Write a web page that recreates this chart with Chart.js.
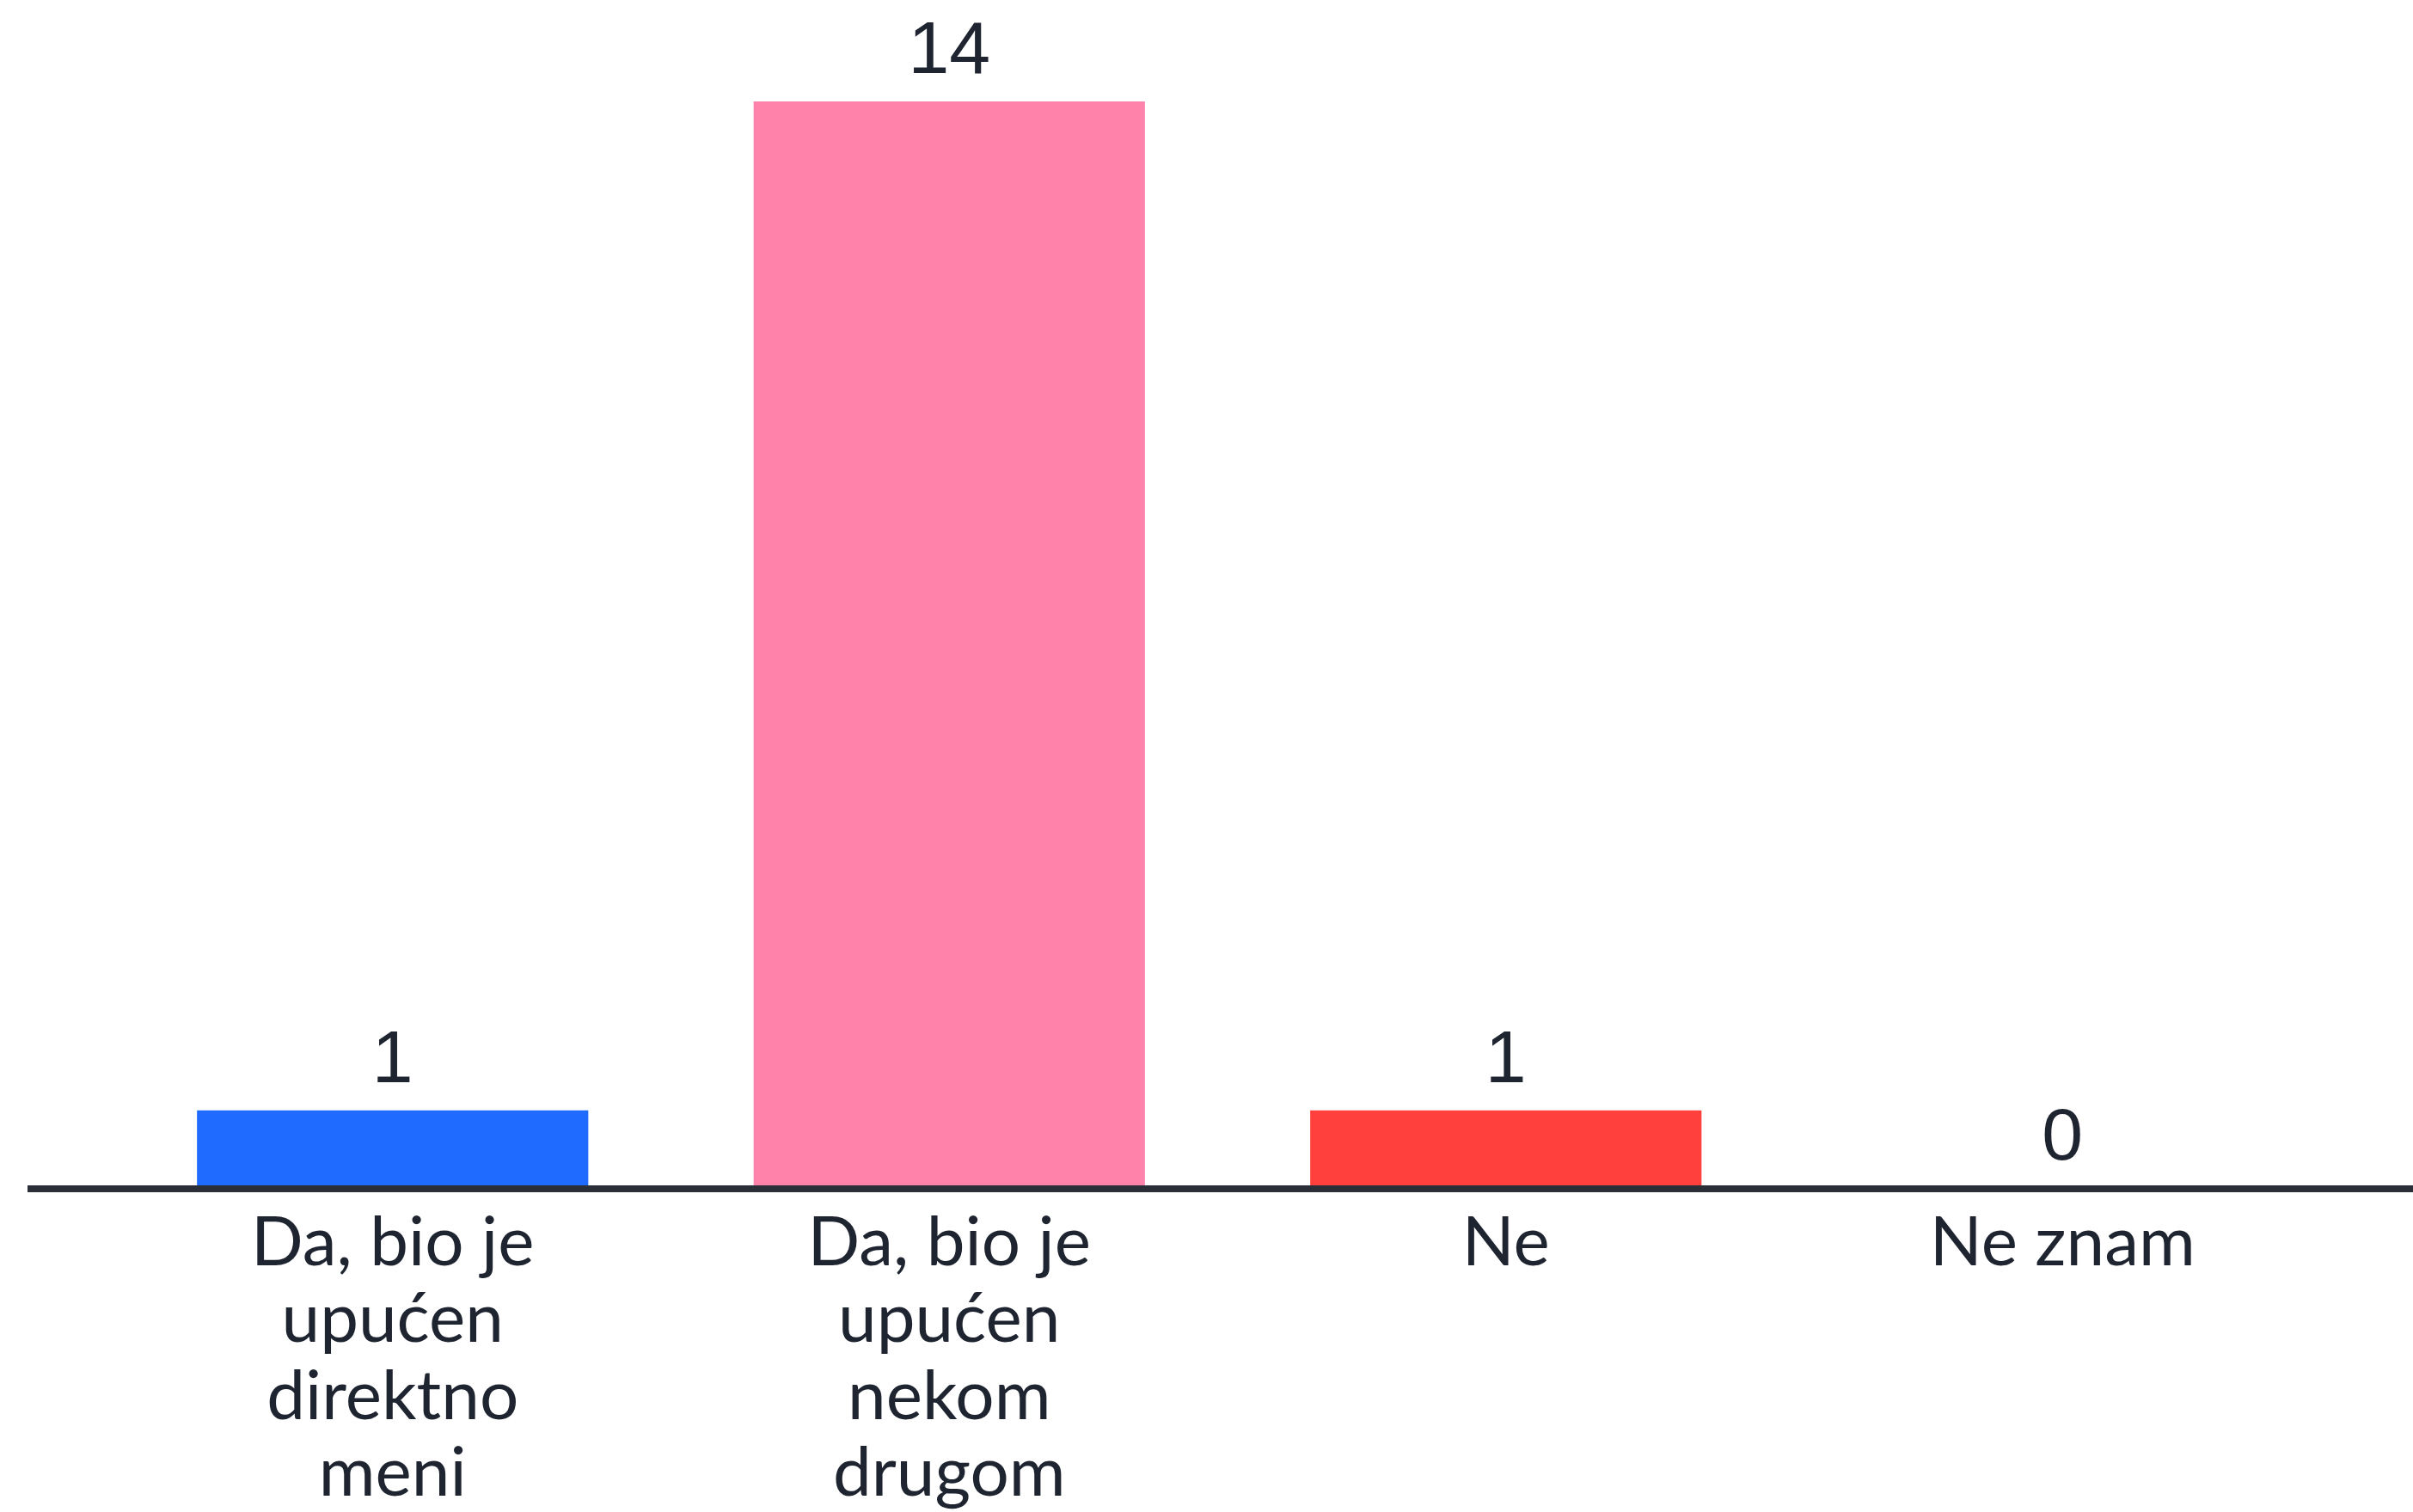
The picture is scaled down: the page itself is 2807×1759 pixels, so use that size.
<!DOCTYPE html>
<html>
<head>
<meta charset="utf-8">
<script src="https://cdn.jsdelivr.net/npm/chart.js@4"></script>
<style>
  html, body { margin: 0; padding: 0; background: #ffffff; }
  #wrap { width: 2807px; height: 1759px; }
</style>
</head>
<body>
<div id="wrap"><canvas id="answers"></canvas></div>
<script>
// Chart data
const categories = [
  ['Da, bio je', 'upućen', 'direktno', 'meni'],
  ['Da, bio je', 'upućen', 'nekom', 'drugom'],
  ['Ne'],
  ['Ne znam']
];
const counts = [1, 14, 1, 0];
const barColors = ['#1f6bff', '#ff82ab', '#ff403d', '#9aa0ad'];

const textColor = '#1e2430';

// value labels over each bar
const valueLabels = {
  id: 'valueLabels',
  afterDatasetsDraw(chart) {
    const ctx = chart.ctx;
    const meta = chart.getDatasetMeta(0);
    ctx.save();
    ctx.fillStyle = textColor;
    ctx.font = 'normal 400 86px "Liberation Sans", sans-serif';
    ctx.textAlign = 'center';
    ctx.textBaseline = 'alphabetic';
    meta.data.forEach((bar, i) => {
      ctx.fillText(String(counts[i]), bar.x, bar.y - 33);
    });
    ctx.restore();
  }
};

// the dark base line, a bit wider than the plot area
const baseLine = {
  id: 'baseLine',
  afterDatasetsDraw(chart) {
    const ctx = chart.ctx;
    const y = chart.scales.y.getPixelForValue(0);
    ctx.save();
    ctx.strokeStyle = '#2a2e36';
    ctx.lineWidth = 8;
    ctx.beginPath();
    ctx.moveTo(32, y + 1);
    ctx.lineTo(chart.width, y + 1);
    ctx.stroke();
    ctx.restore();
  }
};

new Chart(document.getElementById('answers').getContext('2d'), {
  type: 'bar',
  data: {
    labels: categories,
    datasets: [{
      data: counts,
      backgroundColor: barColors,
      borderWidth: 0,
      barPercentage: 0.703,
      categoryPercentage: 1
    }]
  },
  options: {
    responsive: true,
    maintainAspectRatio: false,
    animation: false,
    devicePixelRatio: 1,
    layout: { padding: { top: 118, left: 133, right: 84, bottom: 0 } },
    plugins: {
      legend: { display: false },
      tooltip: { enabled: false }
    },
    scales: {
      x: {
        grid: { display: false, drawTicks: false },
        border: { display: false },
        ticks: {
          color: textColor,
          padding: 19,
          maxRotation: 0,
          autoSkip: false,
          font: { family: 'Lato, "Open Sans", sans-serif', size: 80, lineHeight: 1.12 }
        },
        afterFit(scale) { scale.height = 377; }
      },
      y: {
        display: false,
        min: 0,
        max: 14
      }
    }
  },
  plugins: [valueLabels, baseLine]
});
</script>
</body>
</html>
